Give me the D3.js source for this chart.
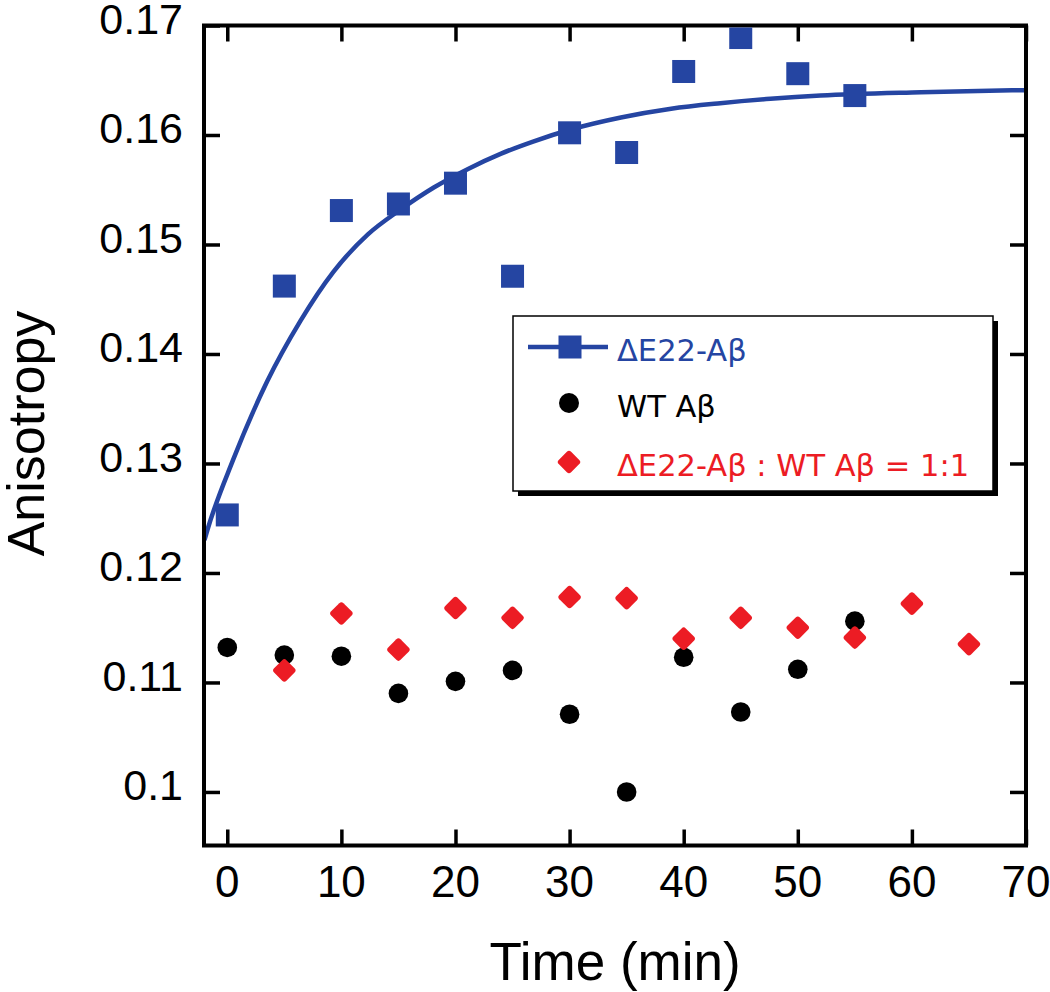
<!DOCTYPE html>
<html>
<head>
<meta charset="utf-8">
<script src="https://cdn.jsdelivr.net/npm/d3@7/dist/d3.min.js"></script>
<style>
  html, body { margin: 0; padding: 0; background: #fff; }
  svg { display: block; }
</style>
</head>
<body>
<svg id="chart" width="1050" height="992"></svg>
<script>
// ---- data ----
const timeDE22 = [0, 5, 10, 15, 20, 25, 30, 35, 40, 45, 50, 55];
const anisoDE22 = [0.1253, 0.1462, 0.1531, 0.1537, 0.1556, 0.1471, 0.1602, 0.1584, 0.1658, 0.1689, 0.1656, 0.1636];

const timeWT = [0, 5, 10, 15, 20, 25, 30, 35, 40, 45, 50, 55];
const anisoWT = [0.1132, 0.1125, 0.1124, 0.1090, 0.1101, 0.1111, 0.1071, 0.1000, 0.1123, 0.1073, 0.1112, 0.1156];

const timeMix = [5, 10, 15, 20, 25, 30, 35, 40, 45, 50, 55, 60, 65];
const anisoMix = [0.1111, 0.1163, 0.1130, 0.1168, 0.1159, 0.1178, 0.1177, 0.1140, 0.1159, 0.1150, 0.1141, 0.1172, 0.1135];

// fitted curve for ΔE22-Aβ
const fitT = [-2.0, -1.75, 0.5, 3.5, 6.4, 9.3, 12.3, 15.2, 18.1, 21.1, 24.0, 26.8, 30.1, 34.5, 38.9, 43.2, 47.6, 52.0, 60.8, 70.0];
const fitV = [0.1230, 0.1239, 0.1303, 0.1375, 0.1430, 0.1475, 0.1509, 0.1532, 0.1552, 0.1569, 0.1583, 0.1594, 0.1605, 0.1616, 0.1624, 0.1629, 0.1633, 0.1636, 0.1639, 0.1641];

const xTicks = [0, 10, 20, 30, 40, 50, 60, 70];
const yTicks = [0.1, 0.11, 0.12, 0.13, 0.14, 0.15, 0.16, 0.17];
const yTickLabels = ["0.1", "0.11", "0.12", "0.13", "0.14", "0.15", "0.16", "0.17"];

const legendLabels = ["ΔE22-Aβ", "WT Aβ", "ΔE22-Aβ : WT Aβ = 1:1"];
const xTitle = "Time (min)";
const yTitle = "Anisotropy";

// ---- layout ----
const BLUE = "#2545a2", RED = "#ec1c24", BLACK = "#000";
const X0 = 204, X1 = 1026, Y0 = 25.5, Y1 = 845.5;
const svg = d3.select("#chart");

const x = d3.scaleLinear().domain([-2.04, 70]).range([X0, X1]);
const y = d3.scaleLinear().domain([0.09511, 0.17]).range([Y1, Y0]);

const tickFont = "'Liberation Sans', Arial, Helvetica, sans-serif";
const TL = 16;

// axes with inward ticks on all four sides
const axB = d3.axisBottom(x).tickValues(xTicks).tickSize(-TL).tickFormat("");
const axT = d3.axisTop(x).tickValues(xTicks).tickSize(-TL).tickFormat("");
const axL = d3.axisLeft(y).tickValues(yTicks).tickSize(-TL).tickFormat("");
const axR = d3.axisRight(y).tickValues(yTicks).tickSize(-TL).tickFormat("");

function styleAxis(g) {
  g.select(".domain").remove();
  g.selectAll(".tick line").attr("stroke", "#000").attr("stroke-width", 3.5);
}
svg.append("g").attr("transform", `translate(0,${Y1})`).call(axB).call(styleAxis);
svg.append("g").attr("transform", `translate(0,${Y0})`).call(axT).call(styleAxis);
svg.append("g").attr("transform", `translate(${X0},0)`).call(axL).call(styleAxis);
svg.append("g").attr("transform", `translate(${X1},0)`).call(axR).call(styleAxis);

// frame
svg.append("rect").attr("x", X0).attr("y", Y0).attr("width", X1 - X0).attr("height", Y1 - Y0)
  .attr("fill", "none").attr("stroke", "#000").attr("stroke-width", 4);

// tick labels
svg.append("g").selectAll("text").data(xTicks).join("text")
  .attr("x", d => x(d)).attr("y", Y1 + 51.5)
  .attr("text-anchor", "middle")
  .attr("font-family", tickFont).attr("font-size", 44)
  .text(d => d);
svg.append("g").selectAll("text").data(yTicks).join("text")
  .attr("x", 183).attr("y", d => y(d) + 8.5)
  .attr("text-anchor", "end")
  .attr("font-family", tickFont).attr("font-size", 43)
  .text((d, i) => yTickLabels[i]);

// titles
svg.append("text").attr("x", (X0 + X1) / 2).attr("y", 980)
  .attr("text-anchor", "middle").attr("font-family", tickFont).attr("font-size", 53)
  .text(xTitle);
svg.append("text").attr("transform", `translate(44,${(Y0 + Y1) / 2 - 2}) rotate(-90)`)
  .attr("text-anchor", "middle").attr("font-family", tickFont).attr("font-size", 52)
  .text(yTitle);

// plot content clipped
svg.append("clipPath").attr("id", "clip").append("rect")
  .attr("x", X0 + 2).attr("y", Y0 + 2).attr("width", X1 - X0 - 4).attr("height", Y1 - Y0 - 4);
const plot = svg.append("g").attr("clip-path", "url(#clip)");

const fitData = fitT.map((t, i) => [t, fitV[i]]);
plot.append("path").datum(fitData)
  .attr("d", d3.line().x(d => x(d[0])).y(d => y(d[1])).curve(d3.curveMonotoneX))
  .attr("fill", "none").attr("stroke", BLUE).attr("stroke-width", 4.5);

const SQ = 23;
plot.append("g").selectAll("rect").data(timeDE22.map((t, i) => [t, anisoDE22[i]])).join("rect")
  .attr("x", d => x(d[0]) - SQ / 2).attr("y", d => y(d[1]) - SQ / 2)
  .attr("width", SQ).attr("height", SQ).attr("fill", BLUE);

plot.append("g").selectAll("circle").data(timeWT.map((t, i) => [t, anisoWT[i]])).join("circle")
  .attr("cx", d => x(d[0])).attr("cy", d => y(d[1])).attr("r", 9.8).attr("fill", BLACK);

const DS = 17.5;
plot.append("g").selectAll("rect").data(timeMix.map((t, i) => [t, anisoMix[i]])).join("rect")
  .attr("x", -DS / 2).attr("y", -DS / 2).attr("width", DS).attr("height", DS).attr("rx", 3)
  .attr("transform", d => `translate(${x(d[0])},${y(d[1])}) rotate(45)`)
  .attr("fill", RED);

// legend
const LX = 513, LY = 316, LW = 480, LH = 175;
const leg = svg.append("g");
leg.append("rect").attr("x", LX + 5).attr("y", LY + 5).attr("width", LW).attr("height", LH).attr("fill", "#000");
leg.append("rect").attr("x", LX).attr("y", LY).attr("width", LW).attr("height", LH)
  .attr("fill", "#fff").attr("stroke", "#000").attr("stroke-width", 1.5);

const legFont = "'DejaVu Sans', Verdana, sans-serif";
const rowY = [347, 403, 462];
const legColors = [BLUE, BLACK, RED];
// row 1: line + square
leg.append("line").attr("x1", 528).attr("x2", 608).attr("y1", rowY[0]).attr("y2", rowY[0])
  .attr("stroke", BLUE).attr("stroke-width", 4.5);
leg.append("rect").attr("x", 570 - SQ / 2).attr("y", rowY[0] - SQ / 2).attr("width", SQ).attr("height", SQ).attr("fill", BLUE);
// row 2: circle
leg.append("circle").attr("cx", 569).attr("cy", rowY[1]).attr("r", 10).attr("fill", BLACK);
// row 3: diamond
leg.append("rect").attr("x", -DS / 2).attr("y", -DS / 2).attr("width", DS).attr("height", DS).attr("rx", 3)
  .attr("transform", `translate(569,${rowY[2]}) rotate(45)`).attr("fill", RED);

leg.selectAll("text.lab").data(legendLabels).join("text").attr("class", "lab")
  .attr("x", 617).attr("y", (d, i) => rowY[i] + 14)
  .attr("font-family", legFont).attr("font-size", 30.5)
  .attr("fill", (d, i) => legColors[i])
  .text(d => d);
</script>
</body>
</html>
